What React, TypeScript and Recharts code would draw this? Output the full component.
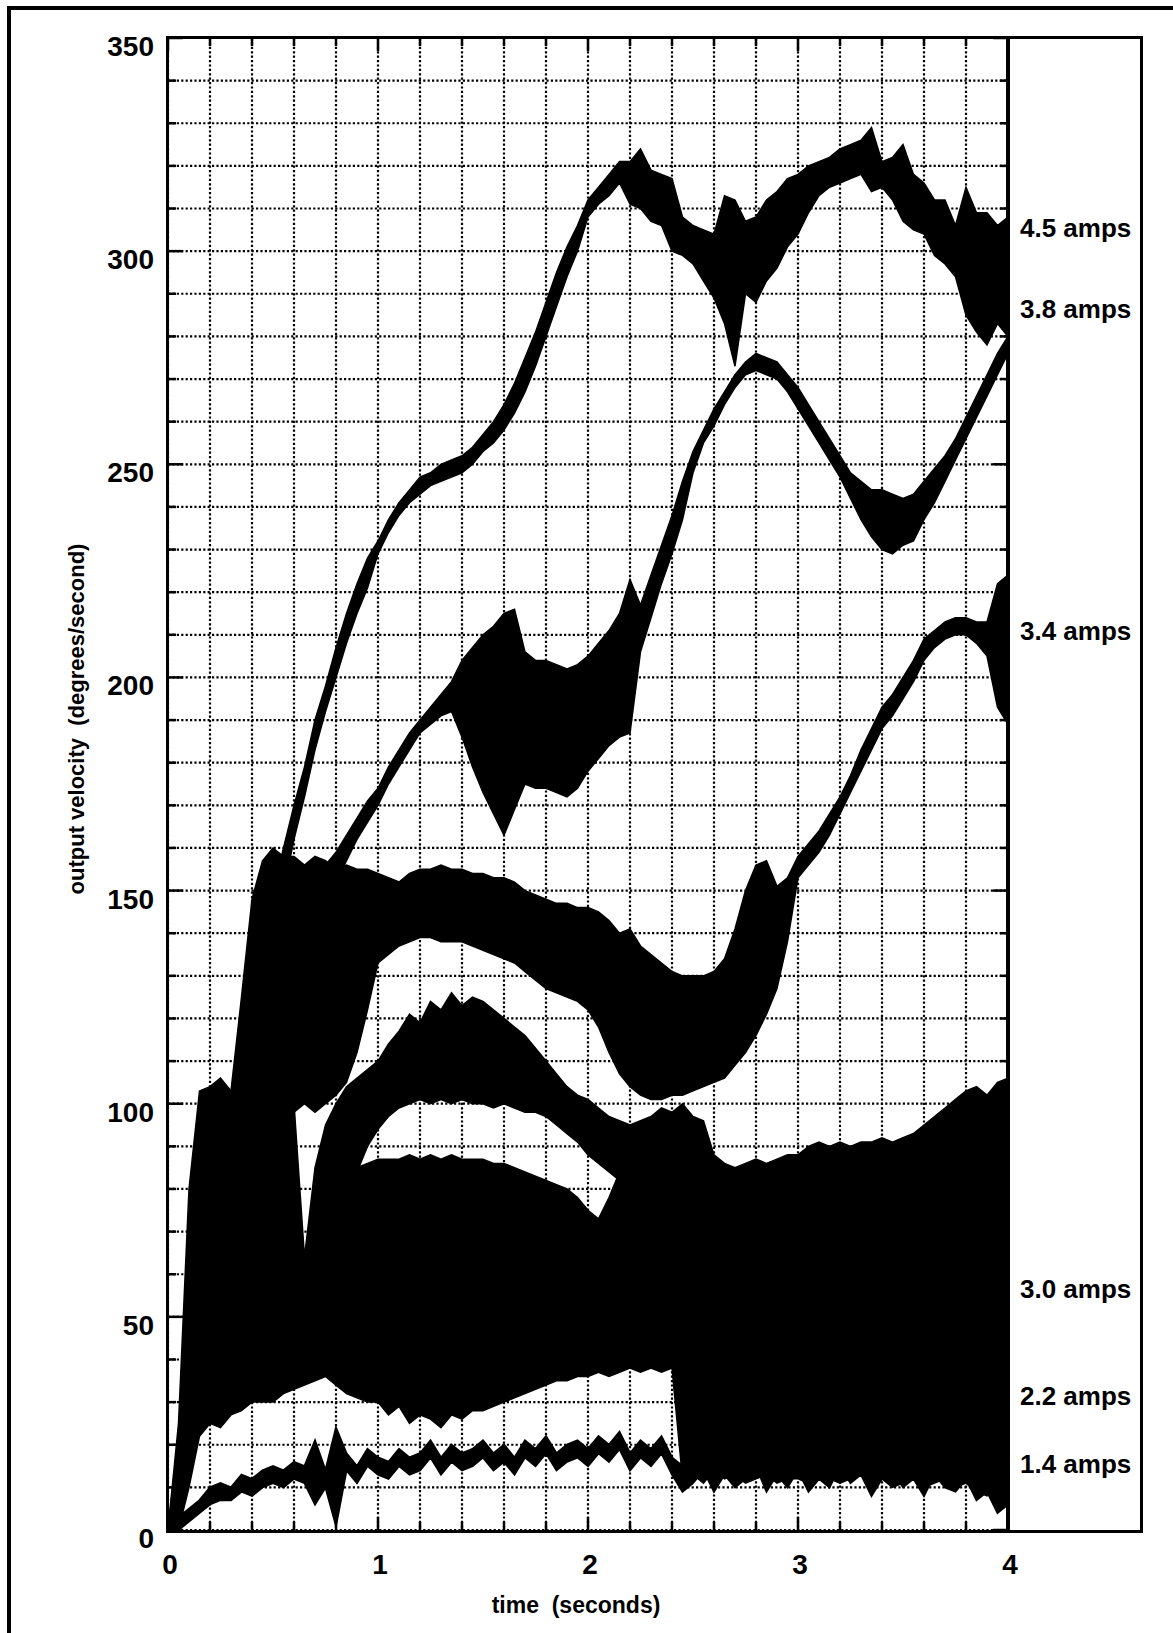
import { Area, CartesianGrid, ComposedChart, ReferenceLine, XAxis, YAxis } from "recharts";

// sample times (s), one column per 0.05 s
const times = [
  0, 0.05, 0.1, 0.15, 0.2, 0.25, 0.3, 0.35, 0.4, 0.45,
  0.5, 0.55, 0.6, 0.65, 0.7, 0.75, 0.8, 0.85, 0.9, 0.95,
  1, 1.05, 1.1, 1.15, 1.2, 1.25, 1.3, 1.35, 1.4, 1.45,
  1.5, 1.55, 1.6, 1.65, 1.7, 1.75, 1.8, 1.85, 1.9, 1.95,
  2, 2.05, 2.1, 2.15, 2.2, 2.25, 2.3, 2.35, 2.4, 2.45,
  2.5, 2.55, 2.6, 2.65, 2.7, 2.75, 2.8, 2.85, 2.9, 2.95,
  3, 3.05, 3.1, 3.15, 3.2, 3.25, 3.3, 3.35, 3.4, 3.45,
  3.5, 3.55, 3.6, 3.65, 3.7, 3.75, 3.8, 3.85, 3.9, 3.95,
  4,
];

// each trace is noisy, so it is kept as the low / high edge of its band (deg/s)
const amps45Lo = [
  0, 10, 25, 40, 55, 70, 82, 95, 108, 122,
  136, 150, 162, 172, 183, 192, 200, 208, 215, 221,
  229, 234, 238, 241, 243, 245, 246, 247, 248, 250,
  253, 255, 258, 262, 267, 273, 280, 287, 294, 300,
  308, 311, 313, 316, 311, 310, 307, 306, 300, 299,
  297, 293, 289, 283, 273, 290, 288, 293, 296, 301,
  304, 309, 313, 315, 316, 317, 318, 314, 315, 312,
  307, 305, 304, 299, 297, 294, 285, 281, 278, 283,
  280,
];
const amps45Hi = [
  0, 22, 45, 60, 75, 90, 100, 112, 124, 137,
  150, 160, 170, 179, 190, 198, 207, 215, 222, 228,
  232, 237, 241, 244, 247, 248, 250, 251, 252, 254,
  257, 260, 264, 269, 275, 281, 288, 295, 301, 306,
  312, 315, 318, 321, 321, 324, 319, 318, 317, 308,
  306, 305, 304, 313, 312, 307, 308, 312, 314, 317,
  318, 320, 321, 322, 324, 325, 326, 329, 321, 322,
  325, 318, 316, 312, 312, 306, 315, 309, 309, 306,
  308,
];

const amps38Lo = [
  0, 6, 15, 28, 42, 57, 72, 86, 98, 108,
  117, 124, 130, 136, 141, 146, 152, 157, 162, 166,
  170, 175, 179, 183, 187, 189, 191, 192, 186, 179,
  173, 168, 163, 169, 175, 174, 174, 173, 172, 174,
  178, 181, 184, 186, 187, 206, 214, 222, 229, 237,
  248, 255, 259, 264, 268, 271, 272, 271, 270, 267,
  263, 259, 255, 251, 247, 242, 237, 233, 230, 229,
  231, 232, 237, 241, 246, 251, 256, 261, 266, 271,
  276,
];
const amps38Hi = [
  0, 16, 30, 45, 60, 75, 90, 102, 113, 122,
  130, 136, 142, 147, 152, 156, 159, 163, 167, 171,
  174, 179, 183, 187, 190, 193, 196, 199, 204, 207,
  210, 212, 215, 216, 206, 204, 204, 203, 202, 203,
  205, 208, 211, 215, 223, 217, 224, 231, 238, 246,
  253, 258, 263, 267, 271, 274, 276, 275, 274, 271,
  268, 264, 260, 256, 252, 248, 246, 244, 244, 243,
  242, 243, 246, 249, 252, 256, 261, 266, 271, 276,
  280,
];

const amps34Lo = [
  0, 5, 20, 35, 45, 50, 55, 60, 70, 85,
  92, 95, 98, 100, 98, 100, 102, 105, 112, 122,
  133, 135, 137, 138, 139, 139, 138, 138, 138, 137,
  136, 135, 134, 133, 131, 129, 127, 126, 125, 124,
  122, 118, 112, 107, 104, 102, 101, 101, 102, 102,
  103, 104, 105, 106, 109, 112, 116, 121, 127, 138,
  153, 156, 159, 163, 168, 173, 178, 183, 188, 191,
  195, 199, 204, 207, 209, 210, 210, 208, 205, 193,
  189,
];
const amps34Hi = [
  0, 15, 40, 70, 95, 100, 103, 125, 148, 157,
  160, 158, 158, 156, 158, 157, 155, 156, 155, 155,
  154, 153, 152, 154, 155, 155, 156, 155, 155, 154,
  154, 153, 153, 152, 150, 149, 148, 147, 147, 146,
  146, 145, 143, 140, 141, 137, 135, 133, 131, 130,
  130, 130, 131, 134, 141, 150, 156, 157, 151, 153,
  158, 161, 164, 168, 172, 177, 183, 188, 193, 196,
  200, 204, 209, 211, 213, 214, 214, 213, 213, 222,
  224,
];

const amps30Lo = [
  0, 8, 30, 42, 38, 33, 36, 35, 38, 40,
  40, 42, 44, 52, 60, 66, 72, 78, 84, 90,
  94, 97, 99, 100, 101, 100, 101, 100, 101, 100,
  100, 99, 100, 99, 98, 98, 97, 95, 93, 91,
  88, 86, 84, 82, 81, 80, 80, 80, 79, 35,
  30, 28, 26, 28, 27, 26, 28, 25, 27, 26,
  25, 27, 25, 26, 24, 25, 27, 26, 25, 24,
  26, 25, 24, 23, 25, 24, 22, 23, 21, 22,
  22,
];
const amps30Hi = [
  0, 25, 80, 103, 104, 106, 103, 103, 100, 98,
  102, 101, 100, 64, 85, 95, 100, 104, 106, 108,
  110, 114, 117, 121, 119, 124, 122, 126, 123, 125,
  124, 122, 120, 118, 116, 113, 110, 107, 104, 102,
  101, 99, 97, 96, 95, 96, 97, 99, 98, 100,
  97, 96, 88, 86, 85, 86, 87, 86, 87, 88,
  88, 90, 91, 90, 91, 90, 91, 91, 92, 91,
  92, 93, 95, 97, 99, 101, 103, 104, 102, 105,
  106,
];

const amps22Lo = [
  0, 0, 10, 22, 25, 24, 27, 28, 30, 30,
  30, 32, 33, 34, 35, 36, 34, 32, 31, 30,
  30, 27, 29, 25, 27, 26, 24, 27, 26, 28,
  28, 29, 30, 31, 32, 33, 34, 35, 35, 36,
  36, 37, 36, 37, 38, 37, 38, 37, 38, 12,
  13, 11, 14, 12, 13, 11, 12, 13, 11, 12,
  12, 11, 13, 12, 11, 12, 13, 11, 12, 10,
  11, 12, 10, 11, 12, 10, 11, 9, 8, 10,
  9,
];
const amps22Hi = [
  0, 12, 40, 55, 70, 75, 78, 80, 80, 78,
  75, 72, 66, 62, 68, 74, 78, 82, 85, 86,
  87, 87, 87, 88, 87, 88, 87, 88, 87, 87,
  87, 86, 86, 85, 84, 83, 82, 81, 80, 78,
  75, 73, 78, 84, 90, 92, 93, 95, 97, 97,
  92, 70, 65, 62, 60, 60, 62, 60, 61, 62,
  60, 61, 60, 62, 61, 60, 62, 61, 60, 62,
  61, 60, 62, 63, 61, 62, 60, 61, 62, 60,
  61,
];

const amps14Lo = [
  0, 0, 2, 4, 6, 7, 7, 9, 8, 10,
  11, 10, 12, 11, 6, 10, 1, 14, 11, 15,
  13, 12, 15, 13, 14, 17, 13, 16, 14, 15,
  17, 14, 16, 13, 17, 15, 18, 14, 16, 17,
  15, 18, 16, 19, 14, 17, 15, 18, 13, 9,
  11, 14, 9, 13, 10, 12, 15, 9, 13, 10,
  14, 9, 12, 10, 15, 11, 13, 8, 12, 14,
  10, 12, 8, 13, 10, 9, 12, 7, 9, 4,
  6,
];
const amps14Hi = [
  0, 3, 5, 7, 10, 11, 10, 13, 12, 14,
  15, 14, 16, 15, 21, 14, 24, 18, 15, 19,
  17, 16, 19, 17, 18, 21, 17, 20, 18, 19,
  21, 18, 20, 17, 21, 19, 22, 18, 20, 21,
  19, 22, 20, 23, 18, 21, 19, 22, 17, 15,
  16, 20, 15, 19, 14, 18, 21, 15, 19, 16,
  20, 14, 18, 16, 21, 16, 19, 14, 17, 20,
  16, 18, 14, 19, 16, 14, 18, 13, 15, 10,
  14,
];

const xTicks = [0, 0.2, 0.4, 0.6, 0.8, 1, 1.2, 1.4, 1.6, 1.8, 2, 2.2, 2.4, 2.6, 2.8, 3, 3.2, 3.4, 3.6, 3.8, 4];
const yTicks = [
  0, 10, 20, 30, 40, 50, 60, 70, 80, 90, 100, 110, 120, 130, 140, 150, 160, 170,
  180, 190, 200, 210, 220, 230, 240, 250, 260, 270, 280, 290, 300, 310, 320, 330, 340, 350,
];

// right-hand labels, placed at the level where each trace ends
const seriesLabels = [
  { text: "4.5 amps", at: 305.5 },
  { text: "3.8 amps", at: 286.5 },
  { text: "3.4 amps", at: 211 },
  { text: "3.0 amps", at: 56.5 },
  { text: "2.2 amps", at: 31.5 },
  { text: "1.4 amps", at: 15.5 },
];

const series = [
  { key: "a45", lo: amps45Lo, hi: amps45Hi },
  { key: "a38", lo: amps38Lo, hi: amps38Hi },
  { key: "a34", lo: amps34Lo, hi: amps34Hi },
  { key: "a30", lo: amps30Lo, hi: amps30Hi },
  { key: "a22", lo: amps22Lo, hi: amps22Hi },
  { key: "a14", lo: amps14Lo, hi: amps14Hi },
];

const rows = times.map((t, i) => {
  const row: Record<string, number | number[]> = { t };
  series.forEach((s) => {
    row[s.key] = [s.lo[i], s.hi[i]];
  });
  return row;
});

const FONT = '"Liberation Sans", Arial, Helvetica, sans-serif';
const W = 1173;
const H = 1633;
const PLOT = { left: 168, right: 1008, top: 38, bottom: 1530 };

function YTick(props: any) {
  const { y, payload } = props;
  const v = payload.value as number;
  const major = v % 50 === 0;
  const len = major ? 15 : 8;
  return (
    <g>
      <line x1={PLOT.left} x2={PLOT.left + len} y1={y} y2={y} stroke="#000" strokeWidth={2.5} />
      <line x1={PLOT.right - len} x2={PLOT.right} y1={y} y2={y} stroke="#000" strokeWidth={2.5} />
      {major && (
        <text x={154} y={y + 18} textAnchor="end" fontSize={28} fontWeight="bold" fontFamily={FONT} fill="#000">
          {v}
        </text>
      )}
    </g>
  );
}

function XTick(props: any) {
  const { x, payload } = props;
  const v = payload.value as number;
  const major = Math.abs(v - Math.round(v)) < 1e-6;
  const len = major ? 13 : 8;
  return (
    <g>
      <line x1={x} x2={x} y1={PLOT.bottom} y2={PLOT.bottom - len} stroke="#000" strokeWidth={2.5} />
      <line x1={x} x2={x} y1={PLOT.top} y2={PLOT.top + len} stroke="#000" strokeWidth={2.5} />
      {major && (
        <text x={x + 2} y={1574} textAnchor="middle" fontSize={28} fontWeight="bold" fontFamily={FONT} fill="#000">
          {Math.round(v)}
        </text>
      )}
    </g>
  );
}

export default function App() {
  return (
    <div style={{ position: "absolute", left: 0, top: 0, width: W, height: H, background: "#fff", overflow: "hidden" }}>
      <ComposedChart
        width={W}
        height={H}
        data={rows}
        margin={{ top: PLOT.top, right: W - PLOT.right, bottom: H - PLOT.bottom - 60, left: PLOT.left - 60 }}
      >
        <CartesianGrid stroke="#000" strokeWidth={2.2} strokeDasharray="2.2 2.2" />
        <XAxis
          dataKey="t"
          type="number"
          domain={[0, 4]}
          ticks={xTicks}
          interval={0}
          height={60}
          axisLine={false}
          tickLine={false}
          tick={<XTick />}
        />
        <YAxis
          type="number"
          domain={[0, 350]}
          ticks={yTicks}
          interval={0}
          width={60}
          axisLine={false}
          tickLine={false}
          tick={<YTick />}
        />
        {series.map((s) => (
          <Area
            key={s.key}
            dataKey={s.key}
            type="linear"
            stroke="#000"
            strokeWidth={s.key === "a14" ? 2 : 1.5}
            fill="#000"
            fillOpacity={1}
            dot={false}
            activeDot={false}
            isAnimationActive={false}
          />
        ))}
        {seriesLabels.map((l) => (
          <ReferenceLine
            key={l.text}
            y={l.at}
            stroke="none"
            label={{
              value: l.text,
              position: "right",
              offset: 12,
              fill: "#000",
              fontSize: 26,
              fontWeight: "bold",
              fontFamily: FONT,
            }}
          />
        ))}
      </ComposedChart>

      {/* frame: plot box + label box, outer page border on top/left */}
      <div
        style={{
          position: "absolute",
          left: 166,
          top: 36,
          width: 1143 - 166,
          height: 1533 - 36,
          border: "3px solid #000",
          boxSizing: "border-box",
          pointerEvents: "none",
        }}
      />
      <div style={{ position: "absolute", left: 1006, top: 36, width: 4, height: 1497, background: "#000" }} />
      <div style={{ position: "absolute", left: 7, top: 6, width: 4, height: H - 6, background: "#000" }} />
      <div style={{ position: "absolute", left: 7, top: 6, width: W - 7, height: 4, background: "#000" }} />

      <div
        style={{
          position: "absolute",
          left: 576,
          top: 1605,
          transform: "translate(-50%, -50%)",
          fontFamily: FONT,
          fontWeight: "bold",
          fontSize: 23,
          whiteSpace: "pre",
        }}
      >
        time  (seconds)
      </div>
      <div
        style={{
          position: "absolute",
          left: 77,
          top: 719,
          transform: "translate(-50%, -50%) rotate(-90deg)",
          fontFamily: FONT,
          fontWeight: "bold",
          fontSize: 22,
          whiteSpace: "pre",
        }}
      >
        output velocity  (degrees/second)
      </div>
    </div>
  );
}
